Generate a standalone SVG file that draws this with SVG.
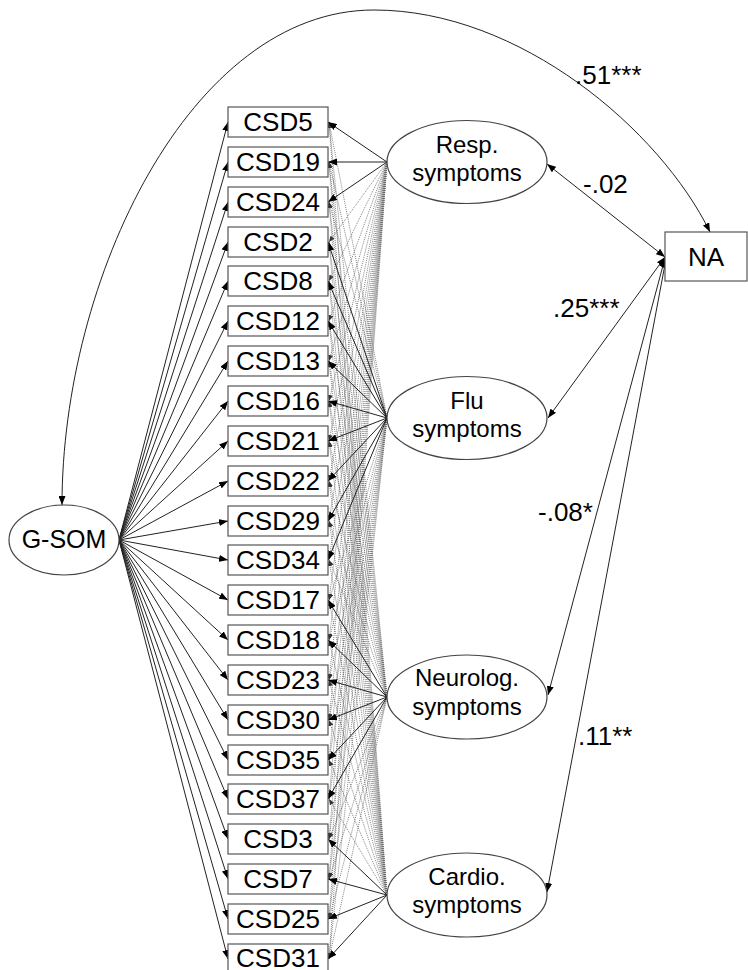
<svg xmlns="http://www.w3.org/2000/svg" width="748" height="970" viewBox="0 0 748 970">
<style>
.box{fill:#fff;stroke:#555;stroke-width:1.2}
.ell{fill:#fff;stroke:#444;stroke-width:1.2}
.t{font-family:"Liberation Sans",Arial,sans-serif;fill:#000;text-anchor:middle}
.csd{font-size:26px}
.fac{font-size:24px}
.lab{font-family:"Liberation Sans",Arial,sans-serif;font-size:26px;fill:#000}
.ln{stroke:#222;stroke-width:1;fill:none;marker-end:url(#ah)}
.dot{stroke:#666;stroke-width:0.8;stroke-dasharray:1,1;fill:none;marker-end:url(#ahg)}
.cov{stroke:#222;stroke-width:1;fill:none;marker-start:url(#ah);marker-end:url(#ah)}
</style>
<defs>
<marker id="ah" markerUnits="userSpaceOnUse" markerWidth="9" markerHeight="7" refX="9" refY="3.5" orient="auto-start-reverse"><path d="M0,0 L9,3.5 L0,7 z" fill="#000"/></marker>
<marker id="ahg" markerUnits="userSpaceOnUse" markerWidth="6" markerHeight="5" refX="6" refY="2.5" orient="auto"><path d="M0,0 L6,2.5 L0,5 z" fill="#333"/></marker>
</defs>
<rect width="748" height="970" fill="#fff"/>
<g id="connectors">
<path class="cov" d="M62,505 C62,280 190,10 374,10 C520,10 660,130 710,232"/>
<line class="cov" x1="665" y1="257" x2="547" y2="164"/>
<line class="cov" x1="665" y1="257" x2="548" y2="418"/>
<line class="cov" x1="665" y1="258" x2="548" y2="695"/>
<line class="cov" x1="666" y1="259" x2="547" y2="892"/>
<g id="dotted">
<line class="dot" x1="387" y1="162" x2="329" y2="242"/><line class="dot" x1="387" y1="162" x2="329" y2="281"/><line class="dot" x1="387" y1="162" x2="329" y2="321"/><line class="dot" x1="387" y1="162" x2="329" y2="361"/><line class="dot" x1="387" y1="162" x2="329" y2="401"/><line class="dot" x1="387" y1="162" x2="329" y2="441"/><line class="dot" x1="387" y1="162" x2="329" y2="481"/><line class="dot" x1="387" y1="162" x2="329" y2="521"/><line class="dot" x1="387" y1="162" x2="329" y2="560"/><line class="dot" x1="387" y1="162" x2="329" y2="600"/><line class="dot" x1="387" y1="162" x2="329" y2="640"/><line class="dot" x1="387" y1="162" x2="329" y2="680"/><line class="dot" x1="387" y1="162" x2="329" y2="720"/><line class="dot" x1="387" y1="162" x2="329" y2="760"/><line class="dot" x1="387" y1="162" x2="329" y2="799"/><line class="dot" x1="387" y1="162" x2="329" y2="839"/><line class="dot" x1="387" y1="162" x2="329" y2="879"/><line class="dot" x1="387" y1="162" x2="329" y2="919"/><line class="dot" x1="387" y1="162" x2="329" y2="959"/>
<line class="dot" x1="387" y1="418" x2="329" y2="122"/><line class="dot" x1="387" y1="418" x2="329" y2="162"/><line class="dot" x1="387" y1="418" x2="329" y2="202"/><line class="dot" x1="387" y1="418" x2="329" y2="600"/><line class="dot" x1="387" y1="418" x2="329" y2="640"/><line class="dot" x1="387" y1="418" x2="329" y2="680"/><line class="dot" x1="387" y1="418" x2="329" y2="720"/><line class="dot" x1="387" y1="418" x2="329" y2="760"/><line class="dot" x1="387" y1="418" x2="329" y2="799"/><line class="dot" x1="387" y1="418" x2="329" y2="839"/><line class="dot" x1="387" y1="418" x2="329" y2="879"/><line class="dot" x1="387" y1="418" x2="329" y2="919"/><line class="dot" x1="387" y1="418" x2="329" y2="959"/>
<line class="dot" x1="387" y1="697" x2="329" y2="122"/><line class="dot" x1="387" y1="697" x2="329" y2="162"/><line class="dot" x1="387" y1="697" x2="329" y2="202"/><line class="dot" x1="387" y1="697" x2="329" y2="242"/><line class="dot" x1="387" y1="697" x2="329" y2="281"/><line class="dot" x1="387" y1="697" x2="329" y2="321"/><line class="dot" x1="387" y1="697" x2="329" y2="361"/><line class="dot" x1="387" y1="697" x2="329" y2="401"/><line class="dot" x1="387" y1="697" x2="329" y2="441"/><line class="dot" x1="387" y1="697" x2="329" y2="481"/><line class="dot" x1="387" y1="697" x2="329" y2="521"/><line class="dot" x1="387" y1="697" x2="329" y2="560"/><line class="dot" x1="387" y1="697" x2="329" y2="839"/><line class="dot" x1="387" y1="697" x2="329" y2="879"/><line class="dot" x1="387" y1="697" x2="329" y2="919"/><line class="dot" x1="387" y1="697" x2="329" y2="959"/>
<line class="dot" x1="387" y1="895" x2="329" y2="122"/><line class="dot" x1="387" y1="895" x2="329" y2="162"/><line class="dot" x1="387" y1="895" x2="329" y2="202"/><line class="dot" x1="387" y1="895" x2="329" y2="242"/><line class="dot" x1="387" y1="895" x2="329" y2="281"/><line class="dot" x1="387" y1="895" x2="329" y2="321"/><line class="dot" x1="387" y1="895" x2="329" y2="361"/><line class="dot" x1="387" y1="895" x2="329" y2="401"/><line class="dot" x1="387" y1="895" x2="329" y2="441"/><line class="dot" x1="387" y1="895" x2="329" y2="481"/><line class="dot" x1="387" y1="895" x2="329" y2="521"/><line class="dot" x1="387" y1="895" x2="329" y2="560"/><line class="dot" x1="387" y1="895" x2="329" y2="600"/><line class="dot" x1="387" y1="895" x2="329" y2="640"/><line class="dot" x1="387" y1="895" x2="329" y2="680"/><line class="dot" x1="387" y1="895" x2="329" y2="720"/><line class="dot" x1="387" y1="895" x2="329" y2="760"/><line class="dot" x1="387" y1="895" x2="329" y2="799"/>
</g>
<g id="gsom-loadings">
<line class="ln" x1="119" y1="540" x2="228" y2="122"/><line class="ln" x1="119" y1="540" x2="228" y2="162"/><line class="ln" x1="119" y1="540" x2="228" y2="202"/><line class="ln" x1="119" y1="540" x2="228" y2="242"/><line class="ln" x1="119" y1="540" x2="228" y2="281"/><line class="ln" x1="119" y1="540" x2="228" y2="321"/><line class="ln" x1="119" y1="540" x2="228" y2="361"/><line class="ln" x1="119" y1="540" x2="228" y2="401"/><line class="ln" x1="119" y1="540" x2="228" y2="441"/><line class="ln" x1="119" y1="540" x2="228" y2="481"/><line class="ln" x1="119" y1="540" x2="228" y2="521"/><line class="ln" x1="119" y1="540" x2="228" y2="560"/><line class="ln" x1="119" y1="540" x2="228" y2="600"/><line class="ln" x1="119" y1="540" x2="228" y2="640"/><line class="ln" x1="119" y1="540" x2="228" y2="680"/><line class="ln" x1="119" y1="540" x2="228" y2="720"/><line class="ln" x1="119" y1="540" x2="228" y2="760"/><line class="ln" x1="119" y1="540" x2="228" y2="799"/><line class="ln" x1="119" y1="540" x2="228" y2="839"/><line class="ln" x1="119" y1="540" x2="228" y2="879"/><line class="ln" x1="119" y1="540" x2="228" y2="919"/><line class="ln" x1="119" y1="540" x2="228" y2="959"/>
</g>
<g id="factor-loadings">
<line class="ln" x1="387" y1="162" x2="328" y2="122"/><line class="ln" x1="387" y1="162" x2="328" y2="162"/><line class="ln" x1="387" y1="162" x2="328" y2="202"/>
<line class="ln" x1="387" y1="418" x2="328" y2="242"/><line class="ln" x1="387" y1="418" x2="328" y2="281"/><line class="ln" x1="387" y1="418" x2="328" y2="321"/><line class="ln" x1="387" y1="418" x2="328" y2="361"/><line class="ln" x1="387" y1="418" x2="328" y2="401"/><line class="ln" x1="387" y1="418" x2="328" y2="441"/><line class="ln" x1="387" y1="418" x2="328" y2="481"/><line class="ln" x1="387" y1="418" x2="328" y2="521"/><line class="ln" x1="387" y1="418" x2="328" y2="560"/>
<line class="ln" x1="387" y1="697" x2="328" y2="600"/><line class="ln" x1="387" y1="697" x2="328" y2="640"/><line class="ln" x1="387" y1="697" x2="328" y2="680"/><line class="ln" x1="387" y1="697" x2="328" y2="720"/><line class="ln" x1="387" y1="697" x2="328" y2="760"/><line class="ln" x1="387" y1="697" x2="328" y2="799"/>
<line class="ln" x1="387" y1="895" x2="328" y2="839"/><line class="ln" x1="387" y1="895" x2="328" y2="879"/><line class="ln" x1="387" y1="895" x2="328" y2="919"/><line class="ln" x1="387" y1="895" x2="328" y2="959"/>
</g>
</g>
<g id="labels">
<text class="lab" x="575" y="84">.51***</text>
<text class="lab" x="583" y="193">-.02</text>
<text class="lab" x="553" y="317">.25***</text>
<text class="lab" x="538" y="521">-.08*</text>
<text class="lab" x="578" y="745">.11**</text>
</g>
<g id="csd-items">
<g id="CSD5"><rect class="box" x="228" y="107" width="100" height="30"/><text class="t csd" x="278" y="131">CSD5</text></g>
<g id="CSD19"><rect class="box" x="228" y="147" width="100" height="30"/><text class="t csd" x="278" y="171">CSD19</text></g>
<g id="CSD24"><rect class="box" x="228" y="187" width="100" height="30"/><text class="t csd" x="278" y="211">CSD24</text></g>
<g id="CSD2"><rect class="box" x="228" y="227" width="100" height="30"/><text class="t csd" x="278" y="251">CSD2</text></g>
<g id="CSD8"><rect class="box" x="228" y="266" width="100" height="30"/><text class="t csd" x="278" y="290">CSD8</text></g>
<g id="CSD12"><rect class="box" x="228" y="306" width="100" height="30"/><text class="t csd" x="278" y="330">CSD12</text></g>
<g id="CSD13"><rect class="box" x="228" y="346" width="100" height="30"/><text class="t csd" x="278" y="370">CSD13</text></g>
<g id="CSD16"><rect class="box" x="228" y="386" width="100" height="30"/><text class="t csd" x="278" y="410">CSD16</text></g>
<g id="CSD21"><rect class="box" x="228" y="426" width="100" height="30"/><text class="t csd" x="278" y="450">CSD21</text></g>
<g id="CSD22"><rect class="box" x="228" y="466" width="100" height="30"/><text class="t csd" x="278" y="490">CSD22</text></g>
<g id="CSD29"><rect class="box" x="228" y="506" width="100" height="30"/><text class="t csd" x="278" y="530">CSD29</text></g>
<g id="CSD34"><rect class="box" x="228" y="545" width="100" height="30"/><text class="t csd" x="278" y="569">CSD34</text></g>
<g id="CSD17"><rect class="box" x="228" y="585" width="100" height="30"/><text class="t csd" x="278" y="609">CSD17</text></g>
<g id="CSD18"><rect class="box" x="228" y="625" width="100" height="30"/><text class="t csd" x="278" y="649">CSD18</text></g>
<g id="CSD23"><rect class="box" x="228" y="665" width="100" height="30"/><text class="t csd" x="278" y="689">CSD23</text></g>
<g id="CSD30"><rect class="box" x="228" y="705" width="100" height="30"/><text class="t csd" x="278" y="729">CSD30</text></g>
<g id="CSD35"><rect class="box" x="228" y="745" width="100" height="30"/><text class="t csd" x="278" y="769">CSD35</text></g>
<g id="CSD37"><rect class="box" x="228" y="784" width="100" height="30"/><text class="t csd" x="278" y="808">CSD37</text></g>
<g id="CSD3"><rect class="box" x="228" y="824" width="100" height="30"/><text class="t csd" x="278" y="848">CSD3</text></g>
<g id="CSD7"><rect class="box" x="228" y="864" width="100" height="30"/><text class="t csd" x="278" y="888">CSD7</text></g>
<g id="CSD25"><rect class="box" x="228" y="904" width="100" height="30"/><text class="t csd" x="278" y="928">CSD25</text></g>
<g id="CSD31"><rect class="box" x="228" y="944" width="100" height="30"/><text class="t csd" x="278" y="967">CSD31</text></g>
</g>
<g id="G-SOM"><ellipse class="ell" cx="64" cy="540" rx="55" ry="35"/><text class="t" style="font-size:25px" x="64" y="548">G-SOM</text></g>
<g id="Resp"><ellipse class="ell" cx="467" cy="162" rx="80" ry="41.5"/><text class="t fac" x="467" y="153">Resp.</text><text class="t fac" x="467" y="181">symptoms</text></g>
<g id="Flu"><ellipse class="ell" cx="467" cy="418" rx="80" ry="41.5"/><text class="t fac" x="467" y="409">Flu</text><text class="t fac" x="467" y="437">symptoms</text></g>
<g id="Neurolog"><ellipse class="ell" cx="467" cy="697" rx="80" ry="42"/><text class="t fac" x="467" y="686">Neurolog.</text><text class="t fac" x="467" y="715">symptoms</text></g>
<g id="Cardio"><ellipse class="ell" cx="467" cy="895" rx="80" ry="42"/><text class="t fac" x="467" y="885">Cardio.</text><text class="t fac" x="467" y="913">symptoms</text></g>
<g id="NA"><rect class="box" x="665" y="232" width="82" height="49"/><text class="t" style="font-size:26px" x="706" y="266">NA</text></g>
</svg>
